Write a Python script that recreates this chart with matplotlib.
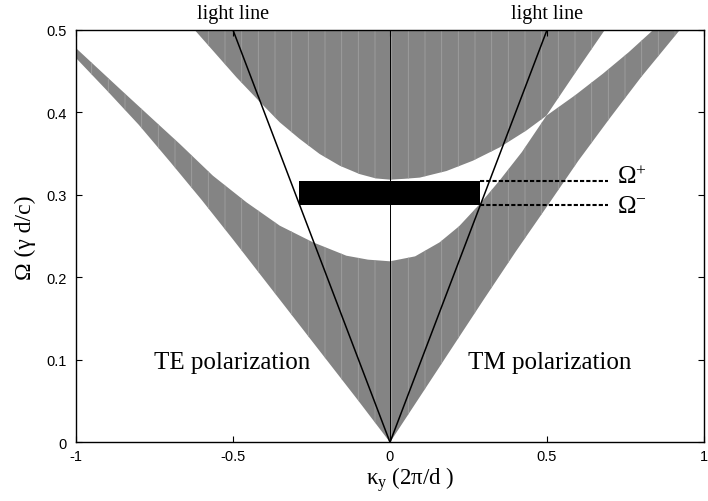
import matplotlib
matplotlib.use("Agg")
import matplotlib.pyplot as plt

plt.rcParams['font.family'] = ['Liberation Serif', 'DejaVu Serif']
plt.rcParams['mathtext.fontset'] = 'custom'
plt.rcParams['mathtext.rm'] = 'Liberation Serif'
plt.rcParams['mathtext.it'] = 'Liberation Serif'
plt.rcParams['mathtext.bf'] = 'Liberation Serif:bold'
plt.rcParams['hatch.linewidth'] = 0.6

# ---- data (ky in 2pi/d, Omega in gamma d/c) ----
# TE side, first band: lower edge (from origin outwards), upper edge (from ky=-1 inwards)
te1_lower_k = [0.0, -0.1, -0.2, -0.3, -0.4, -0.5, -0.6, -0.7, -0.8, -0.9, -1.0]
te1_lower_w = [0.0, 0.050, 0.099, 0.148, 0.197, 0.246, 0.294, 0.340, 0.385, 0.426, 0.466]
te1_upper_k = [-1.0, -0.85, -0.733, -0.67, -0.564, -0.457, -0.351, -0.245, -0.139, -0.07, 0.0]
te1_upper_w = [0.478, 0.425, 0.384, 0.362, 0.3233, 0.291, 0.2627, 0.2425, 0.2263, 0.2215, 0.2195]
# TE side, second band lower edge (from top inwards)
te2_lower_k = [-0.622, -0.564, -0.489, -0.415, -0.351, -0.288, -0.224, -0.160, -0.097, -0.045, 0.0]
te2_lower_w = [0.500, 0.475, 0.4426, 0.413, 0.388, 0.368, 0.3496, 0.3354, 0.3253, 0.320, 0.3185]
# TM side, first band: lower edge (outwards), upper edge (from top inwards)
tm1_lower_k = [0.0, 0.1, 0.2, 0.3, 0.4, 0.5, 0.6, 0.7, 0.8, 0.923]
tm1_lower_w = [0.0, 0.058, 0.116, 0.174, 0.231, 0.286, 0.3415, 0.393, 0.443, 0.500]
tm1_upper_k = [0.838, 0.76, 0.678, 0.59, 0.498, 0.42, 0.35, 0.286, 0.22, 0.158, 0.08, 0.0]
tm1_upper_w = [0.500, 0.473, 0.447, 0.421, 0.396, 0.352, 0.318, 0.289, 0.262, 0.2425, 0.2255, 0.2195]
# TM side, second band lower edge (outwards)
tm2_lower_k = [0.0, 0.045, 0.095, 0.18, 0.264, 0.349, 0.434, 0.498, 0.59, 0.684]
tm2_lower_w = [0.3185, 0.3195, 0.321, 0.329, 0.3415, 0.3576, 0.378, 0.396, 0.448, 0.500]

# omnidirectional gap
omega_minus = 0.288
omega_plus = 0.3165
gap_k = [-0.29, 0.288]
dash_end = 0.693

light_k = [-0.5, 0.0, 0.5]
light_w = [0.5, 0.0, 0.5]

xticks = [-1, -0.5, 0, 0.5, 1]
xticklabels = ['-1', '-0.5', '0', '0.5', '1']
yticks = [0, 0.1, 0.2, 0.3, 0.4, 0.5]
yticklabels = ['0', '0.1', '0.2', '0.3', '0.4', '0.5']

fig = plt.figure(figsize=(7.08, 5.02), dpi=100)
ax = fig.add_axes([76/708, 1-443.3/502, 628/708, 412.3/502])

gray = '#848484'
stripe = '#a0a0a0'

def band(xs, ys):
    ax.fill(xs, ys, facecolor=gray, edgecolor='none', zorder=1)
    ax.fill(xs, ys, facecolor='none', edgecolor=stripe, linewidth=0,
            hatch='|', zorder=1.1)

band(te1_lower_k + te1_upper_k, te1_lower_w + te1_upper_w)
band(tm1_lower_k + tm1_upper_k, tm1_lower_w + tm1_upper_w)
band(te2_lower_k + tm2_lower_k[1:], te2_lower_w + tm2_lower_w[1:])

# omnidirectional gap rectangle and dashed markers
ax.fill_between(gap_k, [omega_minus]*2, [omega_plus]*2, color='black', lw=0, zorder=3)
ax.plot([gap_k[1], dash_end], [omega_plus]*2, color='black', lw=1.5,
        dashes=(2, 1), zorder=3)
ax.plot([gap_k[1], dash_end], [omega_minus]*2, color='black', lw=1.5,
        dashes=(2, 1), zorder=3)

# light lines and ky = 0 line
ax.plot(light_k, light_w, color='black', lw=1.1, zorder=4)
ax.plot([0, 0], [0, 0.5], color='black', lw=0.7, zorder=4)

ax.set_xlim(-1, 1)
ax.set_ylim(0, 0.5)
ax.set_xticks(xticks)
ax.set_xticklabels(xticklabels)
ax.set_yticks(yticks)
ax.set_yticklabels(yticklabels)
ax.tick_params(direction='in', length=4, width=0.8, top=True, right=True,
               labelsize=10.5)
ax.tick_params(axis='x', pad=5)
ax.tick_params(axis='y', pad=7)
for lab in ax.get_xticklabels() + ax.get_yticklabels():
    lab.set_family(['Liberation Sans', 'DejaVu Sans'])
for s in ax.spines.values():
    s.set_linewidth(1.0)
    s.set_zorder(5)

# texts
for kx in (-0.5, 0.5):
    ax.text(kx, 1.039, 'light line', transform=ax.get_xaxis_transform(),
            ha='center', va='center', fontsize=14.5)
ax.text(-0.503, 0.097, 'TE polarization', ha='center', va='center', fontsize=18)
ax.text(0.509, 0.097, 'TM polarization', ha='center', va='center', fontsize=18)
ax.text(0.722, 0.315, r'$\Omega^{+}$', ha='left', va='baseline', fontsize=18)
ax.text(0.722, 0.279, r'$\Omega^{-}$', ha='left', va='baseline', fontsize=18)

fig.text(410/708, 1-485/502, r'$\kappa_{y}$ (2π/d )', ha='center',
         va='baseline', fontsize=16.5)
fig.text(25/708, 1-238/502, 'Ω (γ d/c)', ha='center', va='center',
         rotation=90, fontsize=17)

fig.savefig('out.png', dpi=100)
